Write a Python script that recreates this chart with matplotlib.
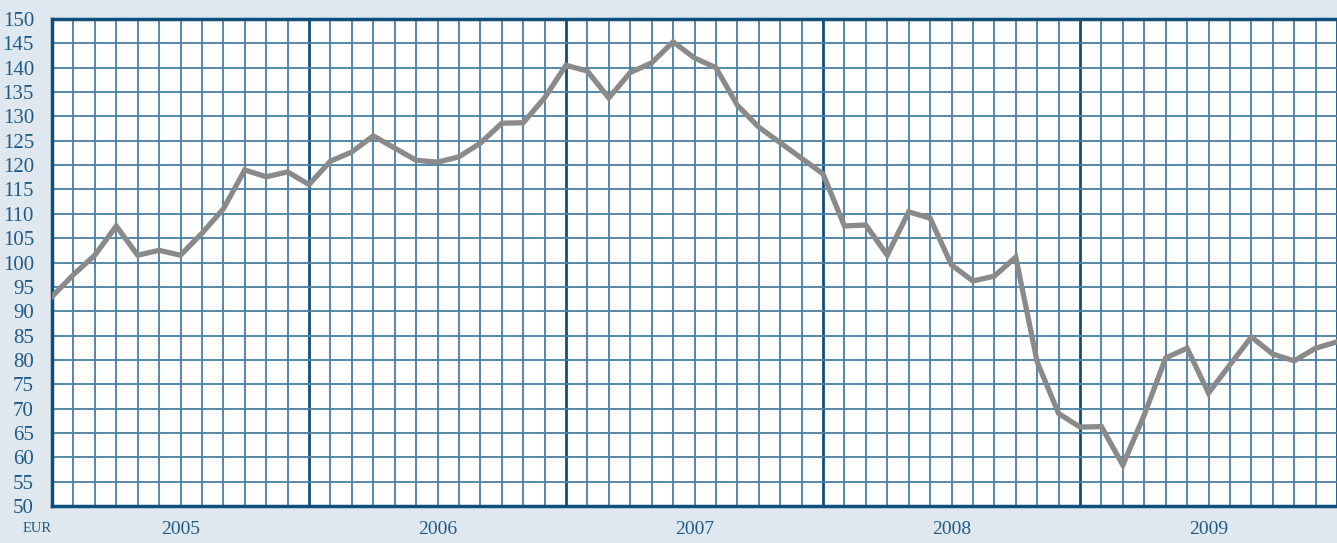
import matplotlib.pyplot as plt
import numpy as np

# monthly index values, Jan 2005 onwards
values = [93, 97.5, 101.5, 107.5, 101.5, 102.5, 101.5, 106, 111, 119, 117.6, 118.6,
          116, 120.8, 122.7, 126, 123.5, 121, 120.6, 121.7, 124.5, 128.6, 128.7, 133.8,
          140.5, 139.3, 133.8, 139, 141, 145.3, 142, 140, 132.3, 127.8, 124.6, 121.4,
          118.2, 107.5, 107.7, 101.5, 110.4, 109.1, 99.5, 96.2, 97.2, 101.1, 79.6, 69,
          66.2, 66.3, 58.4, 68.7, 80.4, 82.4, 73.2, 79, 84.7, 81.2, 79.8, 82.4, 83.7]
years = ["2005", "2006", "2007", "2008", "2009"]
y_ticks = list(range(50, 151, 5))

bg = "#dfe7ef"
grid_col = "#4a7fa3"
dark = "#0f4f7d"
text_col = "#1f5a85"

fig = plt.figure(figsize=(13.37, 5.43), dpi=100, facecolor=bg)
ax = fig.add_axes([52 / 1337, 37 / 543, 1 - 52 / 1337, (506 - 19) / 543])
ax.set_facecolor("white")

n_months = len(values) - 1
for k in range(n_months + 1):
    if k % 12 == 0:
        ax.axvline(k, color=dark, lw=2.0, zorder=1)
    else:
        ax.axvline(k, color=grid_col, lw=1.3, zorder=1)
for v in y_ticks:
    ax.axhline(v, color=grid_col, lw=1.3, zorder=1)

x = np.arange(len(values))
ax.plot(x, values, color="#8a8a8a", lw=3.8, solid_joinstyle="miter", zorder=3)

ax.set_xlim(0, n_months)
ax.set_ylim(50, 150)

for side in ["left", "bottom", "top"]:
    ax.spines[side].set_color(dark)
    ax.spines[side].set_linewidth(2.5)
ax.spines["right"].set_visible(False)

ax.set_yticks(y_ticks)
ax.set_yticklabels([str(v) for v in y_ticks], fontsize=15, family="Liberation Serif",
                   color=text_col)
ax.tick_params(axis="y", length=0, pad=13)

ax.set_xticks([6 + 12 * i for i in range(len(years))])
ax.set_xticklabels(years, fontsize=14, family="Liberation Serif", color=text_col)
ax.tick_params(axis="x", length=0, pad=11)

fig.text(23 / 1337, 1 - 529 / 543, "EUR", fontsize=10.5, family="Liberation Serif",
         color=text_col, va="center", ha="left")

fig.savefig("out.png", dpi=100, facecolor=bg)
